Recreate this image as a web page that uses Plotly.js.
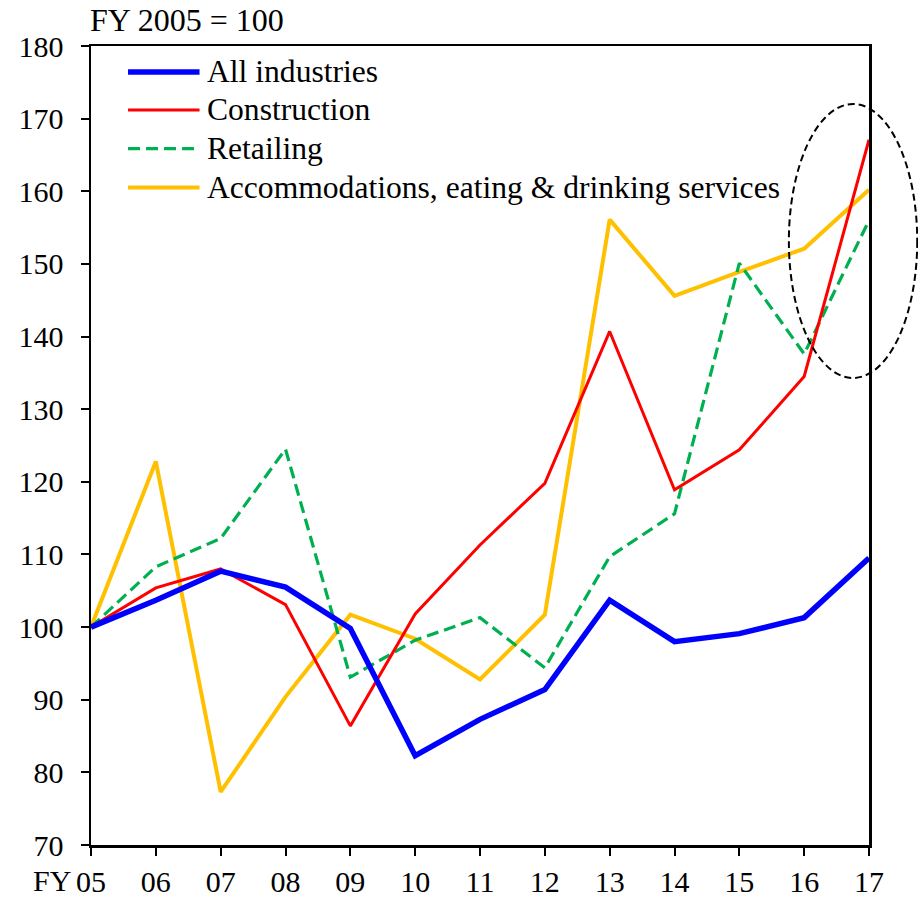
<!DOCTYPE html>
<html>
<head>
<meta charset="utf-8">
<script src="https://cdn.plot.ly/plotly-3.0.1.min.js"></script>
<style>html,body{margin:0;padding:0;background:#fff;}#chart{width:918px;height:898px;}</style>
</head>
<body>
<div id="chart"></div>
<script>
var years = ["05","06","07","08","09","10","11","12","13","14","15","16","17"];
var allIndustries = [100, 103.7, 107.7, 105.5, 99.8, 82.3, 87.3, 91.4, 103.7, 98.0, 99.1, 101.3, 109.5];
var construction  = [100, 105.4, 108.0, 103.1, 86.4, 101.8, 111.3, 119.8, 140.7, 118.9, 124.4, 134.5, 167.1];
var retailing     = [100, 108.3, 112.2, 124.5, 93.1, 98.2, 101.3, 94.4, 109.7, 115.6, 150.1, 137.6, 156.0];
var accommodations= [100, 122.8, 77.3, 90.4, 101.7, 98.4, 92.8, 101.7, 156.1, 145.6, 148.9, 152.1, 160.2];
var seriesNames = ["All industries", "Construction", "Retailing", "Accommodations, eating & drinking services"];
var yTicks = [70, 80, 90, 100, 110, 120, 130, 140, 150, 160, 170, 180];

var idx = years.map(function(_, i){ return i; });
var styles = [
  {color:"#0000FF", width:5.5, dash:"solid"},
  {color:"#FF0000", width:3, dash:"solid"},
  {color:"#00B050", width:3.2, dash:"12px,6px"},
  {color:"#FFC000", width:4, dash:"solid"}
];
var seriesData = [allIndustries, construction, retailing, accommodations];
var drawOrder = [3, 2, 1, 0];
var traces = drawOrder.map(function(k){
  return {x: idx, y: seriesData[k], type:"scatter", mode:"lines", name: seriesNames[k],
          line:{color:styles[k].color, width:styles[k].width, dash:styles[k].dash}, showlegend:false};
});

var font = "Liberation Serif";
var shapes = [];
var annotations = [];
// manual legend
var legX0 = 0.0476, legX1 = 0.1395, legTextX = 0.1465;
var legY = [0.9675, 0.920, 0.8715, 0.823];
seriesNames.forEach(function(n, k){
  shapes.push({type:"line", xref:"paper", yref:"paper", x0:legX0, x1:legX1, y0:legY[k], y1:legY[k],
    line:{color:styles[k].color, width:styles[k].width, dash:styles[k].dash}});
  annotations.push({xref:"paper", yref:"paper", x:legTextX, y:legY[k], xanchor:"left", yanchor:"middle",
    text:n, showarrow:false, font:{family:font, size:31.6, color:"#000"}});
});
// ellipse highlight
shapes.push({type:"circle", xref:"paper", yref:"paper", x0:0.897, x1:1.062, y0:0.5845, y1:0.9274,
  line:{color:"#000", width:2, dash:"7px,4px"}});
annotations.push({xref:"paper", yref:"paper", x:-0.004, y:1.033, xanchor:"left", yanchor:"middle",
  text:"FY 2005 = 100", showarrow:false, font:{family:font, size:32, color:"#000"}});
annotations.push({xref:"paper", yref:"paper", x:-0.0235, y:-0.045, xanchor:"right", yanchor:"middle",
  text:"FY", showarrow:false, font:{family:font, size:30, color:"#000"}});

var layout = {
  width:918, height:898,
  margin:{l:91, r:49, t:46, b:53, pad:0},
  paper_bgcolor:"#fff", plot_bgcolor:"#fff",
  font:{family:font, size:30, color:"#000"},
  xaxis:{range:[0,12], tickvals:idx, ticktext:years, showgrid:false, zeroline:false,
    ticks:"outside", ticklen:8, tickwidth:2, tickcolor:"#000",
    showline:true, linecolor:"#000", linewidth:2.5, mirror:true,
    tickfont:{family:font, size:30, color:"#000"}, ticklabelstandoff:0},
  yaxis:{range:[70,180], tickvals:yTicks, showgrid:false, zeroline:false,
    ticks:"outside", ticklen:8, tickwidth:2, tickcolor:"#000",
    showline:true, linecolor:"#000", linewidth:2.5, mirror:true,
    tickfont:{family:font, size:30, color:"#000"}, ticklabelstandoff:11},
  showlegend:false,
  shapes:shapes,
  annotations:annotations
};
Plotly.newPlot("chart", traces, layout, {displayModeBar:false, staticPlot:true});
</script>
</body>
</html>
